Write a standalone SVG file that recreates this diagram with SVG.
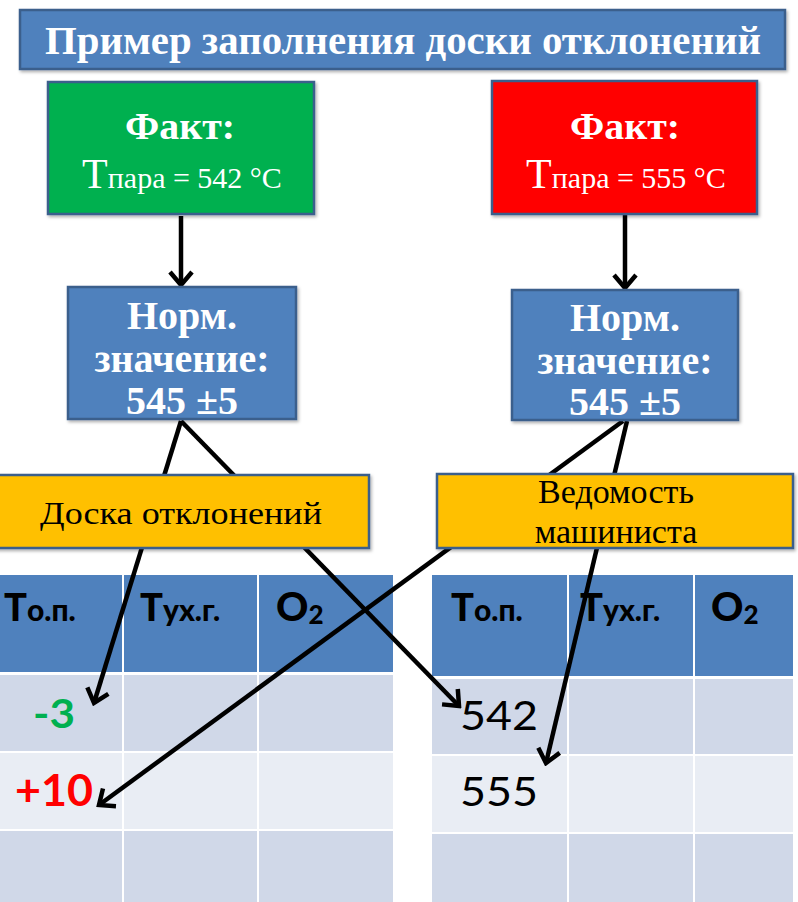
<svg xmlns="http://www.w3.org/2000/svg" width="798" height="902" viewBox="0 0 798 902">
<defs>
<style>
.box{stroke:#3a5f8c;stroke-width:2.5}
.blue{fill:#4f81bd}
.yel{fill:#ffc000}
.serifb{font-family:"Liberation Serif","Times New Roman",serif;font-weight:bold;fill:#ffffff}
.serif{font-family:"Liberation Serif","Times New Roman",serif}
.hdr{fill:#4f81bd}
.r1{fill:#d0d8e8}
.r2{fill:#e9edf4}
.th{font-family:Lato,"Liberation Sans",sans-serif;font-weight:900;fill:#000}
.cell{font-family:Lato,"Liberation Sans",sans-serif}
.conn{stroke:#000;stroke-width:4.5;fill:none;marker-end:url(#arr)}
</style>
<marker id="arr" markerUnits="userSpaceOnUse" viewBox="0 0 18 26" refX="15" refY="13" markerWidth="18" markerHeight="26" orient="auto">
<path d="M2,2 L15,13 L2,24" fill="none" stroke="#000" stroke-width="4.5"/>
</marker>
<filter id="sh" x="-5%" y="-5%" width="115%" height="120%">
<feDropShadow dx="1.5" dy="2" stdDeviation="1.5" flood-color="#000" flood-opacity="0.3"/>
</filter>
</defs>
<rect width="798" height="902" fill="#ffffff"/>

<g id="table-left">
<rect class="hdr" x="0" y="575" width="122" height="97"/>
<rect class="hdr" x="124" y="575" width="133" height="97"/>
<rect class="hdr" x="259" y="575" width="134" height="97"/>
<rect class="r1" x="0" y="675" width="122" height="76"/>
<rect class="r1" x="124" y="675" width="133" height="76"/>
<rect class="r1" x="259" y="675" width="134" height="76"/>
<rect class="r2" x="0" y="753" width="122" height="76"/>
<rect class="r2" x="124" y="753" width="133" height="76"/>
<rect class="r2" x="259" y="753" width="134" height="76"/>
<rect class="r1" x="0" y="831" width="122" height="71"/>
<rect class="r1" x="124" y="831" width="133" height="71"/>
<rect class="r1" x="259" y="831" width="134" height="71"/>
<text class="th" x="4" y="621"><tspan font-size="38">Т</tspan><tspan font-size="30">о.п.</tspan></text>
<text class="th" x="140" y="621"><tspan font-size="38">Т</tspan><tspan font-size="30">ух.г.</tspan></text>
<text class="th" x="276" y="621"><tspan font-size="40">O</tspan><tspan font-size="26" dy="3">2</tspan></text>
<text class="cell" x="33" y="728" font-size="40" font-weight="bold" fill="#00b050" textLength="42" lengthAdjust="spacingAndGlyphs">-3</text>
<text class="cell" x="15" y="806" font-size="44" font-weight="bold" fill="#ff0000" textLength="78" lengthAdjust="spacingAndGlyphs">+10</text>
</g>

<g id="table-right">
<rect class="hdr" x="432" y="575" width="135" height="101"/>
<rect class="hdr" x="569" y="575" width="124" height="101"/>
<rect class="hdr" x="695" y="575" width="98" height="101"/>
<rect class="r1" x="432" y="679" width="135" height="75"/>
<rect class="r1" x="569" y="679" width="124" height="75"/>
<rect class="r1" x="695" y="679" width="98" height="75"/>
<rect class="r2" x="432" y="756" width="135" height="76"/>
<rect class="r2" x="569" y="756" width="124" height="76"/>
<rect class="r2" x="695" y="756" width="98" height="76"/>
<rect class="r1" x="432" y="834" width="135" height="68"/>
<rect class="r1" x="569" y="834" width="124" height="68"/>
<rect class="r1" x="695" y="834" width="98" height="68"/>
<text class="th" x="451" y="621"><tspan font-size="38">Т</tspan><tspan font-size="30">о.п.</tspan></text>
<text class="th" x="580" y="621"><tspan font-size="38">Т</tspan><tspan font-size="30">ух.г.</tspan></text>
<text class="th" x="711" y="621"><tspan font-size="40">O</tspan><tspan font-size="26" dy="3">2</tspan></text>
<text class="cell" x="460" y="730" font-size="40" fill="#000" textLength="78" lengthAdjust="spacingAndGlyphs">542</text>
<text class="cell" x="460" y="806" font-size="40" fill="#000" textLength="78" lengthAdjust="spacingAndGlyphs">555</text>
</g>

<g id="connectors">
<path class="conn" d="M181,216 L181,285"/>
<path class="conn" d="M625,215 L625,288"/>
<path class="conn" d="M181,421 L94,703"/>
<path class="conn" d="M181,421 L459,706"/>
<path class="conn" d="M623,421 L99,805"/>
<path class="conn" d="M627,421 L546,763"/>
</g>

<g id="title">
<rect class="box blue" x="20" y="10" width="765" height="59" filter="url(#sh)"/>
<text class="serifb" x="403" y="54" font-size="40" text-anchor="middle" textLength="716" lengthAdjust="spacingAndGlyphs">Пример заполнения доски отклонений</text>
</g>

<g id="fact-left">
<rect class="box" fill="#00b050" x="48" y="82" width="266" height="132" filter="url(#sh)"/>
<text class="serifb" x="180" y="139" font-size="37" text-anchor="middle" textLength="110" lengthAdjust="spacingAndGlyphs">Факт:</text>
<text class="serif" x="182" y="188" fill="#fff" text-anchor="middle"><tspan font-size="42">Т</tspan><tspan font-size="30">пара = 542 °С</tspan></text>
</g>

<g id="fact-right">
<rect class="box" fill="#ff0000" x="492" y="81" width="265" height="133" filter="url(#sh)"/>
<text class="serifb" x="625" y="139" font-size="37" text-anchor="middle" textLength="110" lengthAdjust="spacingAndGlyphs">Факт:</text>
<text class="serif" x="626" y="188" fill="#fff" text-anchor="middle"><tspan font-size="42">Т</tspan><tspan font-size="30">пара = 555 °С</tspan></text>
</g>

<g id="norm-left">
<rect class="box blue" x="68" y="287" width="228" height="132" filter="url(#sh)"/>
<text class="serifb" x="182" font-size="40" text-anchor="middle"><tspan x="182" y="329">Норм.</tspan><tspan x="182" y="372">значение:</tspan><tspan x="182" y="414">545 ±5</tspan></text>
</g>

<g id="norm-right">
<rect class="box blue" x="512" y="290" width="226" height="130" filter="url(#sh)"/>
<text class="serifb" x="625" font-size="40" text-anchor="middle"><tspan x="625" y="331">Норм.</tspan><tspan x="625" y="374">значение:</tspan><tspan x="625" y="415">545 ±5</tspan></text>
</g>

<g id="board">
<rect class="box yel" x="-5" y="475" width="374" height="73" filter="url(#sh)"/>
<text class="serif" x="181" y="524" font-size="31" fill="#000" text-anchor="middle" textLength="282" lengthAdjust="spacingAndGlyphs">Доска отклонений</text>
</g>

<g id="sheet">
<rect class="box yel" x="437" y="474" width="356" height="74" filter="url(#sh)"/>
<text class="serif" font-size="34" fill="#000" text-anchor="middle"><tspan x="616" y="503">Ведомость</tspan><tspan x="616" y="543">машиниста</tspan></text>
</g>
</svg>
